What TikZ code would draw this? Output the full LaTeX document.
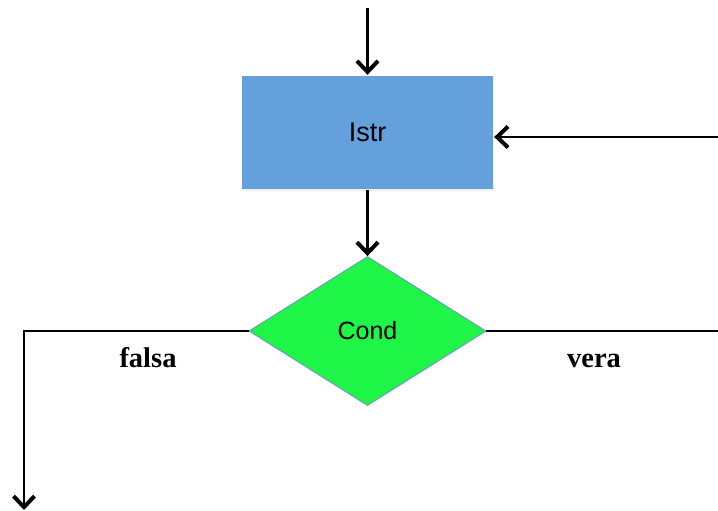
\documentclass[tikz,border=0pt]{standalone}
\usepackage{fontspec}
\setmainfont{Liberation Serif}
\setsansfont{Liberation Sans}
\usetikzlibrary{arrows.meta, shapes.geometric, shadows, positioning}
\definecolor{istrblue}{RGB}{100,160,220}
\definecolor{condgreen}{RGB}{30,245,70}
\definecolor{condedge}{RGB}{110,143,200}

\begin{document}
\begin{tikzpicture}[x=1pt, y=1pt, line width=2.3pt, node distance=198.5pt,
    >={Straight Barb[length=11pt, width=21pt, line width=4pt]},
    process/.style={rectangle, fill=istrblue, minimum width=251pt, minimum height=113pt,
      font=\sffamily\fontsize{27}{30}\selectfont,
      drop shadow={opacity=0.12, shadow xshift=1pt, shadow yshift=-2.5pt}},
    decision/.style={diamond, draw=condedge, line width=0.8pt, fill=condgreen,
      minimum width=237pt, minimum height=149pt, inner sep=0pt,
      font=\sffamily\fontsize{25}{28}\selectfont,
      drop shadow={opacity=0.1, shadow xshift=1pt, shadow yshift=-2.5pt}},
    branch/.style={anchor=base, font=\bfseries\fontsize{28.5}{32}\selectfont}]
  \useasboundingbox (0,0) rectangle (718,511);

  \node[process]  (istr)                  at (367.5,378.5) {Istr};
  \node[decision] (cond) [below of=istr]                   {Cond};

  \coordinate (start)    at (367.5,503);
  \coordinate (back)     at (718,374);
  \coordinate (falseend) at (24,1);
  \coordinate (trueend)  at (718,180);

  \draw[->] (start) -- (istr.north);
  \draw[->] (back) -- (back -| istr.east);
  \draw[->] (istr) -- (cond);
  \draw[->] (cond.west) -| (falseend);
  \draw     (cond.east) -- (trueend);

  \node[branch] (falsa) at (148,143) {falsa};
  \node[branch] (vera)  at (594,143) {vera};
\end{tikzpicture}
\end{document}
